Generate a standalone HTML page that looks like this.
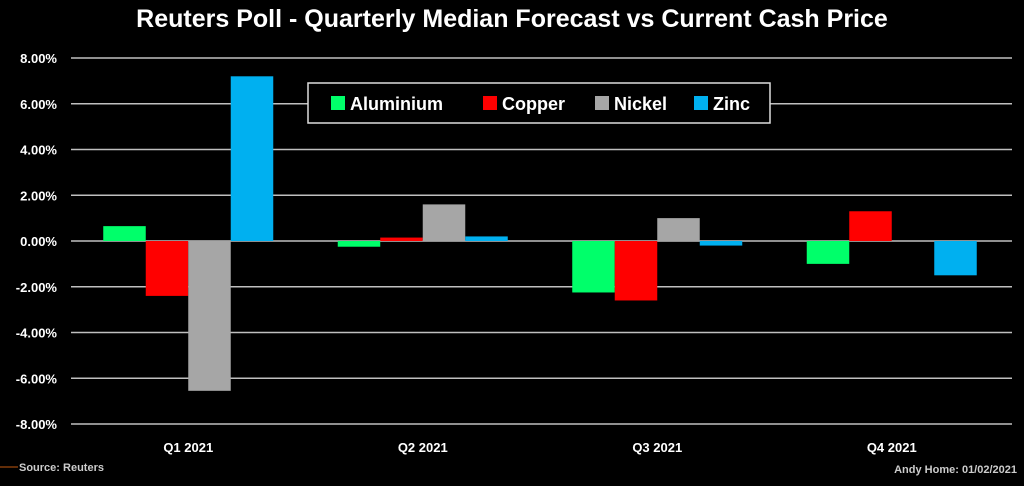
<!DOCTYPE html>
<html><head><meta charset="utf-8"><style>
body{margin:0;background:#000;width:1024px;height:481px;overflow:hidden;font-family:"Liberation Sans",sans-serif}
</style></head><body>
<svg width="1024" height="481" id="c">
<text x="512" y="27" fill="#fff" font-size="25" font-weight="bold" text-anchor="middle">Reuters Poll - Quarterly Median Forecast vs Current Cash Price</text>
<g id="grid"></g><g id="bars"></g><g id="labels"></g>
<rect x="308" y="83" width="462" height="40" fill="#000" stroke="#ddd" stroke-width="1.5"/>
<g><rect x="331" y="96" width="14" height="14" fill="#00ff6a"/><text x="350" y="110" fill="#fff" font-size="18" font-weight="bold">Aluminium</text></g>
<g><rect x="483" y="96" width="14" height="14" fill="#ff0000"/><text x="502" y="110" fill="#fff" font-size="18" font-weight="bold">Copper</text></g>
<g><rect x="595" y="96" width="14" height="14" fill="#a6a6a6"/><text x="614" y="110" fill="#fff" font-size="18" font-weight="bold">Nickel</text></g>
<g><rect x="694" y="96" width="14" height="14" fill="#00b0f0"/><text x="713" y="110" fill="#fff" font-size="18" font-weight="bold">Zinc</text></g>
<line x1="0" y1="467" x2="18" y2="467" stroke="#c55a11" stroke-width="1"/>
<text x="19" y="471" fill="#ccc" font-size="11" font-weight="bold">Source: Reuters</text>
<text x="1017" y="473" fill="#ccc" font-size="11" font-weight="bold" text-anchor="end">Andy Home: 01/02/2021</text>
</svg>
<script>
const categories=["Q1 2021","Q2 2021","Q3 2021","Q4 2021"];
const seriesNames=["Aluminium","Copper","Nickel","Zinc"];
const aluminium=[0.65,-0.25,-2.25,-1.0];
const copper=[-2.4,0.15,-2.6,1.3];
const nickel=[-6.55,1.6,1.0,0];
const zinc=[7.2,0.2,-0.2,-1.5];
const ticks=[8,6,4,2,0,-2,-4,-6,-8];
const colors=["#00ff6a","#ff0000","#a6a6a6","#00b0f0"];
const series=[aluminium,copper,nickel,zinc];
const NS="http://www.w3.org/2000/svg";
const L=71,R=1009,T=58,B=424;
const y=v=>T+(8-v)/16*(B-T);
const bw=(R-L)/categories.length;
const x=i=>L+bw*(i+0.5);
const g=document.getElementById('grid'),bg=document.getElementById('bars'),lg=document.getElementById('labels');
function mk(t,a){const e=document.createElementNS(NS,t);for(const k in a)e.setAttribute(k,a[k]);return e;}
ticks.forEach(t=>{
 const ln=mk('line',{x1:L,x2:1012,y1:y(t),y2:y(t),stroke:'#bfbfbf','stroke-width':1.5});
 
 
 g.appendChild(ln);
 const tx=mk('text',{x:57,y:y(t)+5,fill:'#fff','font-size':13,'font-weight':'bold','text-anchor':'end'});
 tx.textContent=t.toFixed(2)+'%';
 
 
 lg.appendChild(tx);
});
const w=42.5;
categories.forEach((c,i)=>{
 series.forEach((s,j)=>{
  const v=s[i];const y0=y(0),y1=y(v);
  const r=mk('rect',{x:x(i)-2*w+j*w,y:Math.min(y0,y1),width:w,height:Math.abs(y1-y0),fill:colors[j]});
  
  
  bg.appendChild(r);
 });
 const tx=mk('text',{x:x(i),y:452,fill:'#fff','font-size':13,'font-weight':'bold','text-anchor':'middle'});
 tx.textContent=c;
 
 
 lg.appendChild(tx);
});
</script>
</body></html>
